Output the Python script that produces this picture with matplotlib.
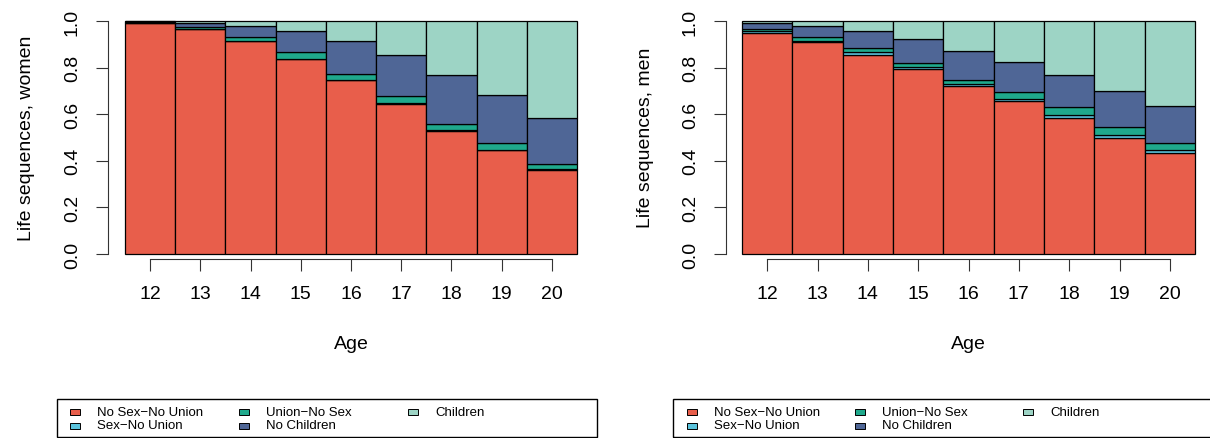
import matplotlib
matplotlib.use("Agg")
import matplotlib.pyplot as plt
from matplotlib.patches import Rectangle

plt.rcParams['font.family'] = ['Liberation Sans', 'DejaVu Sans']

ages = [12, 13, 14, 15, 16, 17, 18, 19, 20]
states = ["No Sex\u2212No Union", "Sex\u2212No Union", "Union\u2212No Sex",
          "No Children", "Children"]
colors = ["#E85E4B", "#5BC4DD", "#1FA98C", "#4F6696", "#9DD4C5"]

# share of each state by age, women
women_nsnu = [0.990, 0.965, 0.913, 0.835, 0.745, 0.645, 0.530, 0.445, 0.360]
women_snu = [0.001, 0.002, 0.003, 0.003, 0.003, 0.003, 0.003, 0.003, 0.003]
women_uns = [0.004, 0.008, 0.017, 0.027, 0.023, 0.032, 0.027, 0.027, 0.025]
women_nc = [0.003, 0.017, 0.047, 0.090, 0.142, 0.172, 0.210, 0.207, 0.197]
women_ch = [0.002, 0.008, 0.020, 0.045, 0.087, 0.148, 0.230, 0.318, 0.415]

# share of each state by age, men
men_nsnu = [0.950, 0.910, 0.855, 0.792, 0.720, 0.655, 0.585, 0.500, 0.435]
men_snu = [0.005, 0.005, 0.010, 0.012, 0.010, 0.012, 0.012, 0.012, 0.010]
men_uns = [0.012, 0.015, 0.018, 0.017, 0.018, 0.028, 0.033, 0.033, 0.032]
men_nc = [0.025, 0.050, 0.072, 0.103, 0.122, 0.130, 0.138, 0.155, 0.158]
men_ch = [0.008, 0.020, 0.045, 0.076, 0.130, 0.175, 0.232, 0.300, 0.365]

W, H = 1210, 439
fig = plt.figure(figsize=(W / 100, H / 100), dpi=100)


def panel(left_px, width_px, spine_gap, series, ylabel, ylabel_x):
    ax = fig.add_axes([left_px / W, (H - 255) / H, width_px / W, 233 / H])
    ax.patch.set_visible(False)
    pos = list(range(len(ages)))
    bottom = [0.0] * len(ages)
    for vals, c in zip(series, colors):
        ax.bar(pos, vals, bottom=bottom, width=1.0, color=c,
               edgecolor='black', linewidth=0.9, clip_on=False)
        bottom = [b + v for b, v in zip(bottom, vals)]
    ax.set_xlim(-0.5, len(ages) - 0.5)
    ax.set_ylim(0, 1)
    for s in ('top', 'right'):
        ax.spines[s].set_visible(False)
    ax.spines['left'].set_position(('outward', spine_gap * 0.72))
    ax.spines['bottom'].set_position(('outward', 5 * 0.72))
    ax.spines['left'].set_bounds(0, 1)
    ax.spines['bottom'].set_bounds(0, len(ages) - 1)
    for s in ('left', 'bottom'):
        ax.spines[s].set_linewidth(0.8)
        ax.spines[s].set_color('#333333')
    ax.set_xticks(pos)
    ax.set_xticklabels([str(a) for a in ages])
    ax.set_yticks([0, 0.2, 0.4, 0.6, 0.8, 1.0])
    ax.set_yticklabels(["0.0", "0.2", "0.4", "0.6", "0.8", "1.0"],
                       rotation=90, va='center')
    ax.tick_params(axis='both', length=8.6, width=0.8, color='#333333',
                   labelsize=14)
    ax.tick_params(axis='x', pad=10)
    ax.tick_params(axis='y', pad=11)
    fig.text(ylabel_x / W, 1 - 138 / H, ylabel, rotation=90,
             ha='center', va='center', fontsize=14)
    fig.text((left_px + width_px / 2) / W, 1 - 345 / H, "Age",
             ha='center', va='center', fontsize=14)
    return ax


def legend_box(x0, x1, patch_x, step):
    fig.patches.append(Rectangle((x0 / W, 1 / H), (x1 - x0) / W, 38 / H,
                                 transform=fig.transFigure, fill=False,
                                 edgecolor='black', linewidth=1.0))
    for i, (name, c) in enumerate(zip(states, colors)):
        col, row = divmod(i, 2)
        px = patch_x + col * step
        py = 413 + row * 13.5
        fig.patches.append(Rectangle((px / W, (H - py - 3) / H), 10 / W, 6 / H,
                                     transform=fig.transFigure, facecolor=c,
                                     edgecolor='black', linewidth=0.7))
        fig.text((px + 27) / W, 1 - py / H, name, ha='left', va='center',
                 fontsize=9.5)


panel(125, 452, 17,
      [women_nsnu, women_snu, women_uns, women_nc, women_ch],
      "Life sequences, women", 27)
panel(742, 453, 16,
      [men_nsnu, men_snu, men_uns, men_nc, men_ch],
      "Life sequences, men", 645)

legend_box(57, 597, 70, 169)
legend_box(673, 1215, 687, 168)

fig.savefig("out.png", dpi=100)
